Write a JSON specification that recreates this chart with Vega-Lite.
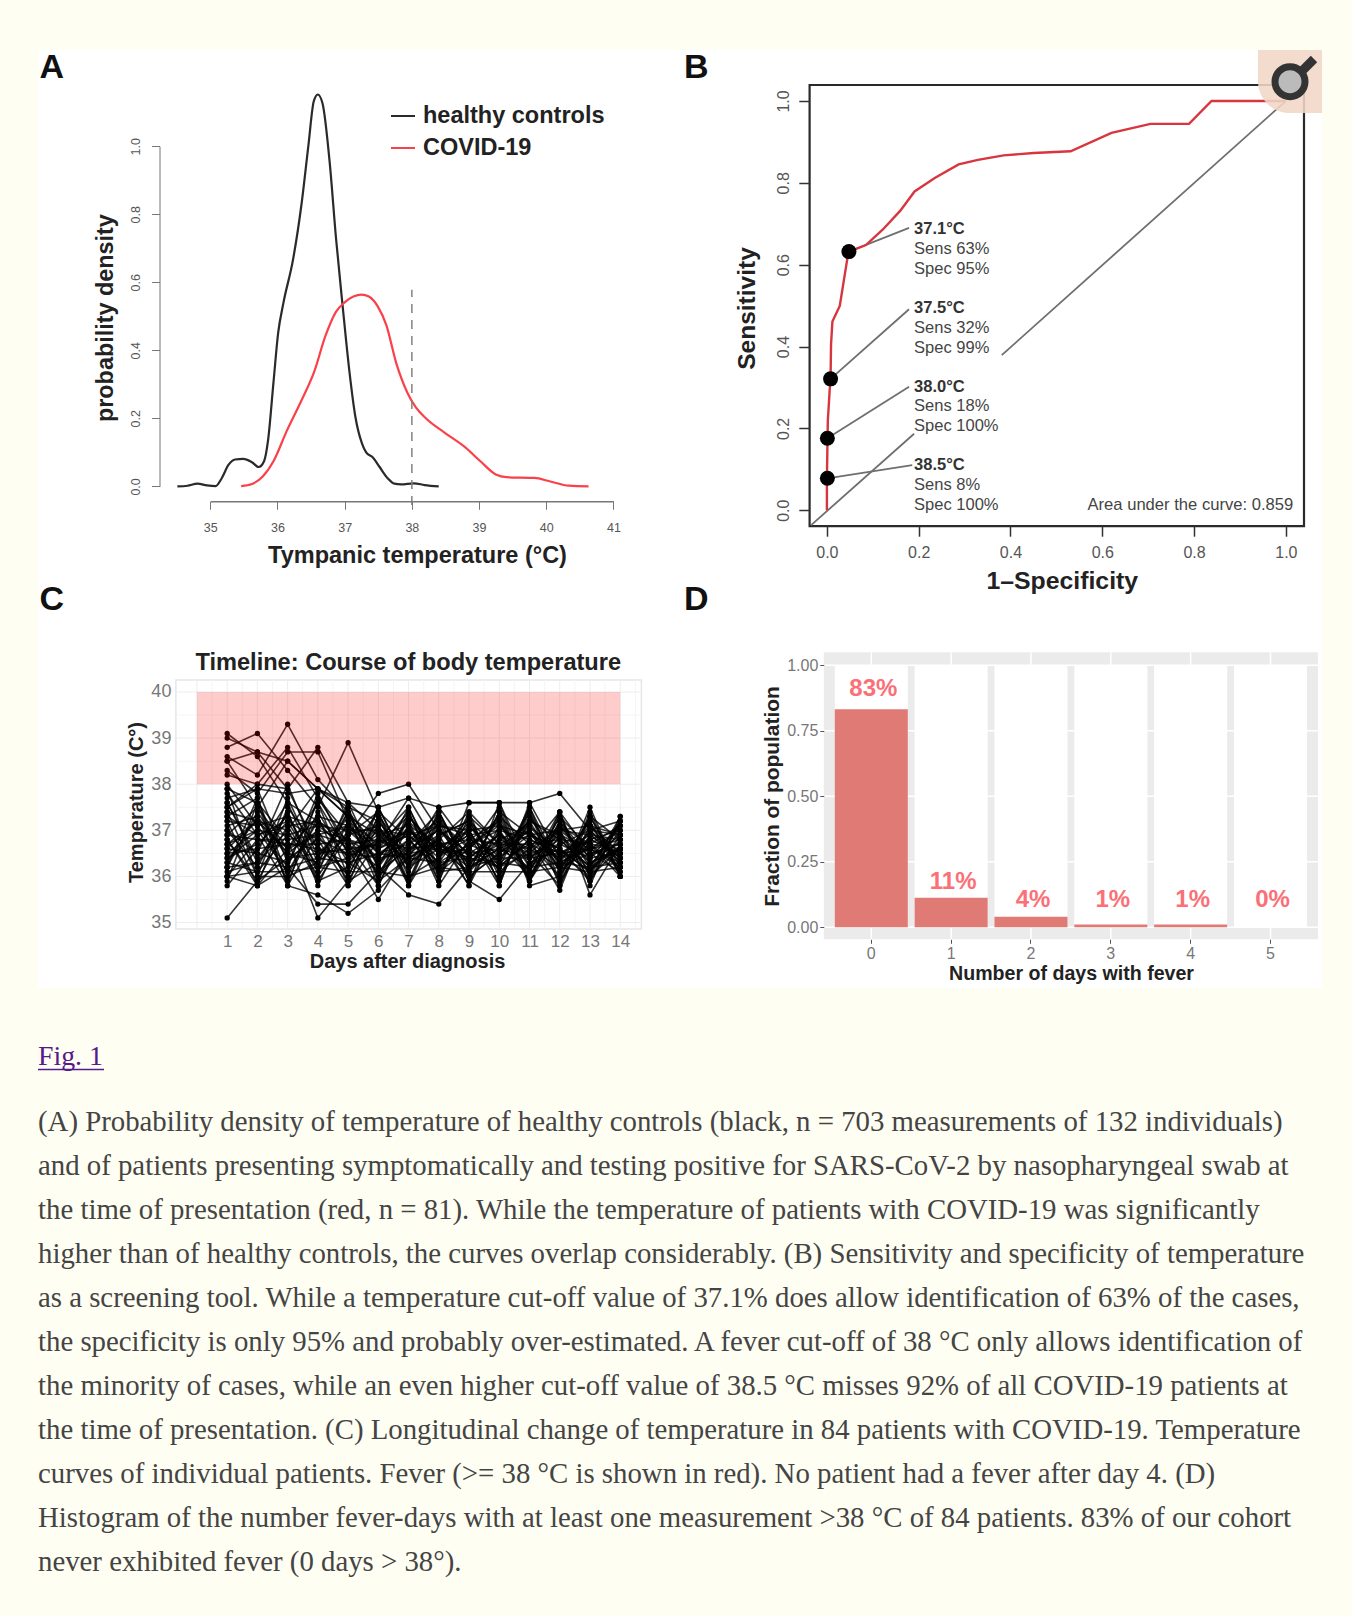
{"$schema":"https://vega.github.io/schema/vega-lite/v6.json","width":1352,"height":1616,"padding":0,"autosize":{"type":"none"},"background":"#fffef2","config":{"font":"Liberation Sans","view":{"stroke":null},"axis":{"grid":false,"labelFont":"Liberation Sans","titleFont":"Liberation Sans","titleBaseline":"middle","labelOverlap":false,"labelFlush":false},"text":{"font":"Liberation Sans"}},
"datasets":{
"density":[{"g":"healthy controls","x":34.51,"y":0},{"g":"healthy controls","x":34.66,"y":0.002},{"g":"healthy controls","x":34.81,"y":0.008},{"g":"healthy controls","x":34.95,"y":0.003},{"g":"healthy controls","x":35.08,"y":0.001},{"g":"healthy controls","x":35.17,"y":0.024},{"g":"healthy controls","x":35.27,"y":0.063},{"g":"healthy controls","x":35.37,"y":0.079},{"g":"healthy controls","x":35.49,"y":0.081},{"g":"healthy controls","x":35.62,"y":0.071},{"g":"healthy controls","x":35.72,"y":0.057},{"g":"healthy controls","x":35.8,"y":0.074},{"g":"healthy controls","x":35.86,"y":0.136},{"g":"healthy controls","x":35.94,"y":0.305},{"g":"healthy controls","x":36.01,"y":0.451},{"g":"healthy controls","x":36.09,"y":0.541},{"g":"healthy controls","x":36.23,"y":0.665},{"g":"healthy controls","x":36.36,"y":0.833},{"g":"healthy controls","x":36.46,"y":1.002},{"g":"healthy controls","x":36.54,"y":1.132},{"g":"healthy controls","x":36.6,"y":1.152},{"g":"healthy controls","x":36.67,"y":1.126},{"g":"healthy controls","x":36.78,"y":0.946},{"g":"healthy controls","x":36.87,"y":0.732},{"g":"healthy controls","x":36.97,"y":0.53},{"g":"healthy controls","x":37.07,"y":0.339},{"g":"healthy controls","x":37.16,"y":0.204},{"g":"healthy controls","x":37.26,"y":0.125},{"g":"healthy controls","x":37.32,"y":0.1},{"g":"healthy controls","x":37.42,"y":0.085},{"g":"healthy controls","x":37.52,"y":0.057},{"g":"healthy controls","x":37.64,"y":0.024},{"g":"healthy controls","x":37.74,"y":0.008},{"g":"healthy controls","x":37.84,"y":0.006},{"g":"healthy controls","x":38.03,"y":0.009},{"g":"healthy controls","x":38.19,"y":0.004},{"g":"healthy controls","x":38.4,"y":0},{"g":"COVID-19","x":35.46,"y":0.001},{"g":"COVID-19","x":35.62,"y":0.007},{"g":"COVID-19","x":35.78,"y":0.029},{"g":"COVID-19","x":35.94,"y":0.074},{"g":"COVID-19","x":36.14,"y":0.164},{"g":"COVID-19","x":36.36,"y":0.254},{"g":"COVID-19","x":36.55,"y":0.339},{"g":"COVID-19","x":36.71,"y":0.44},{"g":"COVID-19","x":36.87,"y":0.513},{"g":"COVID-19","x":37.0,"y":0.541},{"g":"COVID-19","x":37.13,"y":0.558},{"g":"COVID-19","x":37.25,"y":0.564},{"g":"COVID-19","x":37.36,"y":0.558},{"g":"COVID-19","x":37.49,"y":0.53},{"g":"COVID-19","x":37.62,"y":0.474},{"g":"COVID-19","x":37.77,"y":0.361},{"g":"COVID-19","x":37.93,"y":0.277},{"g":"COVID-19","x":38.06,"y":0.232},{"g":"COVID-19","x":38.22,"y":0.198},{"g":"COVID-19","x":38.48,"y":0.159},{"g":"COVID-19","x":38.8,"y":0.114},{"g":"COVID-19","x":39.02,"y":0.074},{"g":"COVID-19","x":39.25,"y":0.035},{"g":"COVID-19","x":39.41,"y":0.027},{"g":"COVID-19","x":39.83,"y":0.025},{"g":"COVID-19","x":40.05,"y":0.015},{"g":"COVID-19","x":40.34,"y":0.002},{"g":"COVID-19","x":40.63,"y":0}],
"temps":[
{"p":1,"d":1,"t":35.1},{"p":1,"d":2,"t":35.9},{"p":1,"d":3,"t":36.4},{"p":1,"d":4,"t":36.8},{"p":1,"d":5,"t":36.5},{"p":1,"d":6,"t":36.9},{"p":1,"d":7,"t":36.3},{"p":1,"d":8,"t":36.7},{"p":1,"d":9,"t":36.2},{"p":1,"d":10,"t":36.6},{"p":1,"d":11,"t":36.9},{"p":1,"d":12,"t":36.4},{"p":1,"d":13,"t":36.8},{"p":1,"d":14,"t":36.5},
{"p":2,"d":1,"t":39.1},{"p":2,"d":2,"t":38.6},{"p":2,"d":3,"t":37.6},{"p":2,"d":4,"t":37.2},{"p":2,"d":5,"t":36.8},{"p":2,"d":6,"t":36.6},{"p":2,"d":7,"t":37.0},{"p":2,"d":8,"t":36.5},{"p":2,"d":9,"t":36.9},{"p":2,"d":10,"t":36.3},{"p":2,"d":11,"t":36.7},{"p":2,"d":12,"t":36.4},{"p":2,"d":13,"t":36.6},{"p":2,"d":14,"t":36.8},
{"p":3,"d":1,"t":39.0},{"p":3,"d":2,"t":38.7},{"p":3,"d":3,"t":38.5},{"p":3,"d":4,"t":37.9},{"p":3,"d":5,"t":37.3},{"p":3,"d":6,"t":36.9},{"p":3,"d":7,"t":37.1},{"p":3,"d":8,"t":36.7},{"p":3,"d":9,"t":36.4},{"p":3,"d":10,"t":36.9},{"p":3,"d":11,"t":36.6},{"p":3,"d":12,"t":37.0},{"p":3,"d":13,"t":36.5},{"p":3,"d":14,"t":36.7},
{"p":4,"d":1,"t":38.8},{"p":4,"d":2,"t":39.1},{"p":4,"d":3,"t":38.3},{"p":4,"d":4,"t":37.5},{"p":4,"d":5,"t":38.9},{"p":4,"d":6,"t":37.4},{"p":4,"d":7,"t":36.8},{"p":4,"d":8,"t":37.2},{"p":4,"d":9,"t":36.6},{"p":4,"d":10,"t":36.2},{"p":4,"d":11,"t":36.8},{"p":4,"d":12,"t":36.5},{"p":4,"d":13,"t":36.9},{"p":4,"d":14,"t":36.4},
{"p":5,"d":1,"t":38.6},{"p":5,"d":2,"t":38.2},{"p":5,"d":3,"t":39.3},{"p":5,"d":4,"t":38.1},{"p":5,"d":5,"t":37.4},{"p":5,"d":6,"t":36.6},{"p":5,"d":7,"t":36.9},{"p":5,"d":8,"t":36.3},{"p":5,"d":9,"t":36.7},{"p":5,"d":10,"t":37.1},{"p":5,"d":11,"t":36.4},{"p":5,"d":12,"t":36.8},{"p":5,"d":13,"t":36.2},{"p":5,"d":14,"t":36.6},
{"p":6,"d":1,"t":38.5},{"p":6,"d":2,"t":38.7},{"p":6,"d":3,"t":37.9},{"p":6,"d":4,"t":38.8},{"p":6,"d":5,"t":37.6},{"p":6,"d":6,"t":37.0},{"p":6,"d":7,"t":36.5},{"p":6,"d":8,"t":36.9},{"p":6,"d":9,"t":37.2},{"p":6,"d":10,"t":36.6},{"p":6,"d":11,"t":36.2},{"p":6,"d":12,"t":36.7},{"p":6,"d":13,"t":37.0},{"p":6,"d":14,"t":36.9},
{"p":7,"d":1,"t":38.3},{"p":7,"d":2,"t":37.8},{"p":7,"d":3,"t":38.7},{"p":7,"d":4,"t":38.7},{"p":7,"d":5,"t":37.2},{"p":7,"d":6,"t":36.7},{"p":7,"d":7,"t":37.3},{"p":7,"d":8,"t":36.6},{"p":7,"d":9,"t":36.1},{"p":7,"d":10,"t":36.8},{"p":7,"d":11,"t":37.1},{"p":7,"d":12,"t":36.3},{"p":7,"d":13,"t":36.6},{"p":7,"d":14,"t":37.0},
{"p":8,"d":1,"t":38.2},{"p":8,"d":2,"t":38.0},{"p":8,"d":3,"t":38.8},{"p":8,"d":4,"t":37.7},{"p":8,"d":5,"t":36.9},{"p":8,"d":6,"t":37.8},{"p":8,"d":7,"t":38.0},{"p":8,"d":8,"t":37.0},{"p":8,"d":9,"t":36.5},{"p":8,"d":10,"t":36.9},{"p":8,"d":11,"t":36.4},{"p":8,"d":12,"t":36.9},{"p":8,"d":13,"t":36.3},{"p":8,"d":14,"t":36.6},
{"p":9,"d":1,"t":38.5},{"p":9,"d":2,"t":37.5},{"p":9,"d":3,"t":38.5},{"p":9,"d":4,"t":37.9},{"p":9,"d":5,"t":37.5},{"p":9,"d":6,"t":37.2},{"p":9,"d":7,"t":36.4},{"p":9,"d":8,"t":36.8},{"p":9,"d":9,"t":37.4},{"p":9,"d":10,"t":36.7},{"p":9,"d":11,"t":37.0},{"p":9,"d":12,"t":36.2},{"p":9,"d":13,"t":36.8},{"p":9,"d":14,"t":36.5},
{"p":10,"d":1,"t":37.9},{"p":10,"d":2,"t":37.6},{"p":10,"d":3,"t":36.8},{"p":10,"d":4,"t":35.1},{"p":10,"d":5,"t":35.9},{"p":10,"d":6,"t":36.3},{"p":10,"d":7,"t":36.8},{"p":10,"d":8,"t":36.2},{"p":10,"d":9,"t":36.7},{"p":10,"d":10,"t":36.4},{"p":10,"d":11,"t":36.9},{"p":10,"d":12,"t":36.6},{"p":10,"d":13,"t":36.1},{"p":10,"d":14,"t":36.8},
{"p":11,"d":1,"t":38.0},{"p":11,"d":2,"t":37.1},{"p":11,"d":3,"t":36.2},{"p":11,"d":4,"t":35.4},{"p":11,"d":5,"t":35.4},{"p":11,"d":6,"t":36.1},{"p":11,"d":7,"t":36.6},{"p":11,"d":8,"t":37.0},{"p":11,"d":9,"t":36.3},{"p":11,"d":10,"t":36.8},{"p":11,"d":11,"t":36.5},{"p":11,"d":12,"t":37.1},{"p":11,"d":13,"t":36.7},{"p":11,"d":14,"t":36.2},
{"p":12,"d":1,"t":37.8},{"p":12,"d":2,"t":36.9},{"p":12,"d":3,"t":35.8},{"p":12,"d":4,"t":35.6},{"p":12,"d":5,"t":35.2},{"p":12,"d":6,"t":35.7},{"p":12,"d":7,"t":36.4},{"p":12,"d":8,"t":36.8},{"p":12,"d":9,"t":36.0},{"p":12,"d":10,"t":36.5},{"p":12,"d":11,"t":37.0},{"p":12,"d":12,"t":36.3},{"p":12,"d":13,"t":36.7},{"p":12,"d":14,"t":37.1},
{"p":13,"d":1,"t":37.7},{"p":13,"d":2,"t":37.9},{"p":13,"d":3,"t":37.8},{"p":13,"d":4,"t":37.9},{"p":13,"d":5,"t":37.6},{"p":13,"d":6,"t":37.5},{"p":13,"d":7,"t":37.7},{"p":13,"d":8,"t":37.5},{"p":13,"d":9,"t":37.6},{"p":13,"d":10,"t":37.6},{"p":13,"d":11,"t":37.6},{"p":13,"d":12,"t":37.8},{"p":13,"d":13,"t":37.0},{"p":13,"d":14,"t":37.2},
{"p":14,"d":1,"t":37.6},{"p":14,"d":2,"t":36.4},{"p":14,"d":3,"t":37.2},{"p":14,"d":4,"t":36.1},{"p":14,"d":5,"t":37.4},{"p":14,"d":6,"t":36.2},{"p":14,"d":7,"t":37.1},{"p":14,"d":8,"t":35.9},{"p":14,"d":9,"t":37.3},{"p":14,"d":10,"t":36.0},{"p":14,"d":11,"t":37.2},{"p":14,"d":12,"t":36.1},{"p":14,"d":13,"t":37.3},{"p":14,"d":14,"t":36.2},
{"p":15,"d":1,"t":37.5},{"p":15,"d":2,"t":37.9},{"p":15,"d":3,"t":36.3},{"p":15,"d":4,"t":37.6},{"p":15,"d":5,"t":36.0},{"p":15,"d":6,"t":37.3},{"p":15,"d":7,"t":35.9},{"p":15,"d":8,"t":37.4},{"p":15,"d":9,"t":36.1},{"p":15,"d":10,"t":37.4},{"p":15,"d":11,"t":35.9},{"p":15,"d":12,"t":37.4},{"p":15,"d":13,"t":35.8},{"p":15,"d":14,"t":37.3},
{"p":16,"d":1,"t":37.4},{"p":16,"d":2,"t":36.0},{"p":16,"d":3,"t":37.7},{"p":16,"d":4,"t":36.3},{"p":16,"d":5,"t":37.5},{"p":16,"d":6,"t":35.9},{"p":16,"d":7,"t":37.4},{"p":16,"d":8,"t":36.0},{"p":16,"d":9,"t":37.4},{"p":16,"d":10,"t":35.8},{"p":16,"d":11,"t":37.5},{"p":16,"d":12,"t":35.9},{"p":16,"d":13,"t":37.5},{"p":16,"d":14,"t":36.0},
{"p":17,"d":1,"t":37.3},{"p":17,"d":2,"t":37.7},{"p":17,"d":3,"t":36.0},{"p":17,"d":4,"t":37.4},{"p":17,"d":5,"t":36.3},{"p":17,"d":6,"t":37.1},{"p":17,"d":7,"t":35.8},{"p":17,"d":8,"t":37.3},{"p":17,"d":9,"t":35.9},{"p":17,"d":10,"t":37.0},{"p":17,"d":11,"t":36.1},{"p":17,"d":12,"t":37.3},{"p":17,"d":13,"t":36.0},{"p":17,"d":14,"t":37.2},
{"p":18,"d":1,"t":37.2},{"p":18,"d":2,"t":35.8},{"p":18,"d":3,"t":37.5},{"p":18,"d":4,"t":36.6},{"p":18,"d":5,"t":36.1},{"p":18,"d":6,"t":37.5},{"p":18,"d":7,"t":36.2},{"p":18,"d":8,"t":36.9},{"p":18,"d":9,"t":35.8},{"p":18,"d":10,"t":37.6},{"p":18,"d":11,"t":35.9},{"p":18,"d":12,"t":37.2},{"p":18,"d":13,"t":36.2},{"p":18,"d":14,"t":37.1},
{"p":19,"d":1,"t":37.1},{"p":19,"d":2,"t":37.3},{"p":19,"d":3,"t":35.9},{"p":19,"d":4,"t":37.3},{"p":19,"d":5,"t":35.8},{"p":19,"d":6,"t":36.8},{"p":19,"d":7,"t":37.5},{"p":19,"d":8,"t":36.1},{"p":19,"d":9,"t":37.1},{"p":19,"d":10,"t":36.3},{"p":19,"d":11,"t":37.4},{"p":19,"d":12,"t":35.8},{"p":19,"d":13,"t":37.1},{"p":19,"d":14,"t":36.3},
{"p":20,"d":1,"t":37.0},{"p":20,"d":2,"t":36.2},{"p":20,"d":3,"t":37.4},{"p":20,"d":4,"t":35.8},{"p":20,"d":5,"t":37.2},{"p":20,"d":6,"t":36.0},{"p":20,"d":7,"t":36.7},{"p":20,"d":8,"t":37.4},{"p":20,"d":9,"t":36.2},{"p":20,"d":10,"t":37.3},{"p":20,"d":11,"t":36.0},{"p":20,"d":12,"t":37.0},{"p":20,"d":13,"t":35.9},{"p":20,"d":14,"t":36.9},
{"p":21,"d":1,"t":36.9},{"p":21,"d":2,"t":37.5},{"p":21,"d":3,"t":36.6},{"p":21,"d":4,"t":37.6},{"p":21,"d":5,"t":36.5},{"p":21,"d":6,"t":37.4},{"p":21,"d":7,"t":36.0},{"p":21,"d":8,"t":36.4},{"p":21,"d":9,"t":37.0},{"p":21,"d":10,"t":35.9},{"p":21,"d":11,"t":37.3},{"p":21,"d":12,"t":36.3},{"p":21,"d":13,"t":37.2},{"p":21,"d":14,"t":36.0},
{"p":22,"d":1,"t":36.8},{"p":22,"d":2,"t":35.9},{"p":22,"d":3,"t":37.1},{"p":22,"d":4,"t":36.0},{"p":22,"d":5,"t":37.0},{"p":22,"d":6,"t":36.4},{"p":22,"d":7,"t":37.2},{"p":22,"d":8,"t":35.8},{"p":22,"d":9,"t":36.8},{"p":22,"d":10,"t":37.2},{"p":22,"d":11,"t":36.2},{"p":22,"d":12,"t":37.1},{"p":22,"d":13,"t":36.4},{"p":22,"d":14,"t":37.1},
{"p":23,"d":1,"t":36.7},{"p":23,"d":2,"t":37.2},{"p":23,"d":3,"t":36.5},{"p":23,"d":4,"t":37.0},{"p":23,"d":5,"t":35.9},{"p":23,"d":6,"t":37.1},{"p":23,"d":7,"t":36.1},{"p":23,"d":8,"t":37.1},{"p":23,"d":9,"t":36.0},{"p":23,"d":10,"t":36.5},{"p":23,"d":11,"t":37.0},{"p":23,"d":12,"t":35.9},{"p":23,"d":13,"t":36.9},{"p":23,"d":14,"t":36.4},
{"p":24,"d":1,"t":36.6},{"p":24,"d":2,"t":36.5},{"p":24,"d":3,"t":38.0},{"p":24,"d":4,"t":36.4},{"p":24,"d":5,"t":37.3},{"p":24,"d":6,"t":36.5},{"p":24,"d":7,"t":36.9},{"p":24,"d":8,"t":36.3},{"p":24,"d":9,"t":37.2},{"p":24,"d":10,"t":36.1},{"p":24,"d":11,"t":36.6},{"p":24,"d":12,"t":37.4},{"p":24,"d":13,"t":35.6},{"p":24,"d":14,"t":36.7},
{"p":25,"d":1,"t":36.5},{"p":25,"d":2,"t":37.0},{"p":25,"d":3,"t":36.1},{"p":25,"d":4,"t":37.2},{"p":25,"d":5,"t":36.7},{"p":25,"d":6,"t":35.8},{"p":25,"d":7,"t":37.3},{"p":25,"d":8,"t":36.5},{"p":25,"d":9,"t":36.6},{"p":25,"d":10,"t":37.5},{"p":25,"d":11,"t":35.8},{"p":25,"d":12,"t":36.0},{"p":25,"d":13,"t":37.0},{"p":25,"d":14,"t":36.3},
{"p":26,"d":1,"t":36.4},{"p":26,"d":2,"t":36.7},{"p":26,"d":3,"t":37.3},{"p":26,"d":4,"t":36.2},{"p":26,"d":5,"t":36.4},{"p":26,"d":6,"t":37.0},{"p":26,"d":7,"t":35.9},{"p":26,"d":8,"t":37.2},{"p":26,"d":9,"t":35.9},{"p":26,"d":10,"t":35.5},{"p":26,"d":11,"t":36.3},{"p":26,"d":12,"t":36.6},{"p":26,"d":13,"t":36.1},{"p":26,"d":14,"t":37.0},
{"p":27,"d":1,"t":36.3},{"p":27,"d":2,"t":36.1},{"p":27,"d":3,"t":36.9},{"p":27,"d":4,"t":37.1},{"p":27,"d":5,"t":36.6},{"p":27,"d":6,"t":35.5},{"p":27,"d":7,"t":36.6},{"p":27,"d":8,"t":37.0},{"p":27,"d":9,"t":36.5},{"p":27,"d":10,"t":36.2},{"p":27,"d":11,"t":36.8},{"p":27,"d":12,"t":35.7},{"p":27,"d":13,"t":37.3},{"p":27,"d":14,"t":36.1},
{"p":28,"d":1,"t":36.2},{"p":28,"d":2,"t":37.4},{"p":28,"d":3,"t":36.4},{"p":28,"d":4,"t":36.5},{"p":28,"d":5,"t":37.1},{"p":28,"d":6,"t":36.3},{"p":28,"d":7,"t":37.0},{"p":28,"d":8,"t":36.4},{"p":28,"d":9,"t":37.3},{"p":28,"d":10,"t":36.7},{"p":28,"d":11,"t":36.0},{"p":28,"d":12,"t":37.2},{"p":28,"d":13,"t":36.4},{"p":28,"d":14,"t":36.9},
{"p":29,"d":1,"t":36.1},{"p":29,"d":2,"t":36.3},{"p":29,"d":3,"t":37.0},{"p":29,"d":4,"t":35.9},{"p":29,"d":5,"t":36.2},{"p":29,"d":6,"t":37.2},{"p":29,"d":7,"t":36.3},{"p":29,"d":8,"t":36.8},{"p":29,"d":9,"t":35.8},{"p":29,"d":10,"t":37.1},{"p":29,"d":11,"t":36.5},{"p":29,"d":12,"t":35.8},{"p":29,"d":13,"t":37.4},{"p":29,"d":14,"t":36.0},
{"p":30,"d":1,"t":36.0},{"p":30,"d":2,"t":36.8},{"p":30,"d":3,"t":36.7},{"p":30,"d":4,"t":36.7},{"p":30,"d":5,"t":36.8},{"p":30,"d":6,"t":36.1},{"p":30,"d":7,"t":36.8},{"p":30,"d":8,"t":36.1},{"p":30,"d":9,"t":36.2},{"p":30,"d":10,"t":36.4},{"p":30,"d":11,"t":37.1},{"p":30,"d":12,"t":36.5},{"p":30,"d":13,"t":36.0},{"p":30,"d":14,"t":36.6},
{"p":31,"d":1,"t":35.9},{"p":31,"d":2,"t":37.6},{"p":31,"d":3,"t":35.8},{"p":31,"d":4,"t":36.9},{"p":31,"d":5,"t":36.0},{"p":31,"d":6,"t":37.3},{"p":31,"d":7,"t":36.5},{"p":31,"d":8,"t":37.3},{"p":31,"d":9,"t":36.4},{"p":31,"d":10,"t":36.9},{"p":31,"d":11,"t":36.1},{"p":31,"d":12,"t":37.3},{"p":31,"d":13,"t":36.6},{"p":31,"d":14,"t":36.2},
{"p":32,"d":1,"t":35.8},{"p":32,"d":2,"t":36.6},{"p":32,"d":3,"t":37.6},{"p":32,"d":4,"t":36.1},{"p":32,"d":5,"t":37.6},{"p":32,"d":6,"t":36.2},{"p":32,"d":7,"t":35.6},{"p":32,"d":8,"t":35.4},{"p":32,"d":9,"t":36.2},{"p":32,"d":10,"t":36.6},{"p":32,"d":11,"t":37.2},{"p":32,"d":12,"t":36.8},{"p":32,"d":13,"t":36.2},{"p":32,"d":14,"t":37.2},
{"p":33,"d":1,"t":36.0},{"p":33,"d":2,"t":35.8},{"p":33,"d":3,"t":36.2},{"p":33,"d":4,"t":37.8},{"p":33,"d":5,"t":36.5},{"p":33,"d":6,"t":36.7},{"p":33,"d":7,"t":37.7},{"p":33,"d":8,"t":36.6},{"p":33,"d":9,"t":37.0},{"p":33,"d":10,"t":35.9},{"p":33,"d":11,"t":37.4},{"p":33,"d":12,"t":36.1},{"p":33,"d":13,"t":36.7},{"p":33,"d":14,"t":36.0},
{"p":34,"d":1,"t":37.5},{"p":34,"d":2,"t":38.0},{"p":34,"d":3,"t":37.9},{"p":34,"d":4,"t":36.6},{"p":34,"d":5,"t":36.3},{"p":34,"d":6,"t":35.9},{"p":34,"d":7,"t":36.4},{"p":34,"d":8,"t":37.5},{"p":34,"d":9,"t":36.6},{"p":34,"d":10,"t":37.3},{"p":34,"d":11,"t":36.7},{"p":34,"d":12,"t":36.0},{"p":34,"d":13,"t":37.3},{"p":34,"d":14,"t":36.8},
{"p":35,"d":1,"t":36.8},{"p":35,"d":2,"t":35.8},{"p":35,"d":3,"t":36.6},{"p":35,"d":4,"t":37.3},{"p":35,"d":5,"t":37.1},{"p":35,"d":6,"t":36.6},{"p":35,"d":7,"t":37.4},{"p":35,"d":8,"t":35.9},{"p":35,"d":9,"t":37.6},{"p":35,"d":10,"t":37.6},{"p":35,"d":11,"t":36.2},{"p":35,"d":12,"t":37.4},{"p":35,"d":13,"t":36.5},{"p":35,"d":14,"t":36.1},
{"p":36,"d":1,"t":37.3},{"p":36,"d":2,"t":36.9},{"p":36,"d":3,"t":37.2},{"p":36,"d":4,"t":36.8},{"p":36,"d":5,"t":35.8},{"p":36,"d":6,"t":37.5},{"p":36,"d":7,"t":36.2},{"p":36,"d":8,"t":37.4},{"p":36,"d":9,"t":36.1},{"p":36,"d":10,"t":37.4},{"p":36,"d":11,"t":36.9},{"p":36,"d":12,"t":36.6},{"p":36,"d":13,"t":35.9},{"p":36,"d":14,"t":37.2},
{"p":37,"d":1,"t":36.2},{"p":37,"d":2,"t":37.7},{"p":37,"d":3,"t":35.8},{"p":37,"d":4,"t":37.7},{"p":37,"d":5,"t":36.7},{"p":37,"d":6,"t":36.2},{"p":37,"d":7,"t":37.5},{"p":37,"d":8,"t":36.2},{"p":37,"d":9,"t":36.7},{"p":37,"d":10,"t":37.0},{"p":37,"d":11,"t":35.9},{"p":37,"d":12,"t":37.1},{"p":37,"d":13,"t":36.3},{"p":37,"d":14,"t":36.6},
{"p":38,"d":1,"t":37.6},{"p":38,"d":2,"t":36.3},{"p":38,"d":3,"t":37.4},{"p":38,"d":4,"t":35.9},{"p":38,"d":5,"t":36.9},{"p":38,"d":6,"t":37.4},{"p":38,"d":7,"t":35.8},{"p":38,"d":8,"t":36.9},{"p":38,"d":9,"t":37.2},{"p":38,"d":10,"t":36.2},{"p":38,"d":11,"t":37.5},{"p":38,"d":12,"t":36.2},{"p":38,"d":13,"t":37.0},{"p":38,"d":14,"t":36.4},
{"p":39,"d":1,"t":36.6},{"p":39,"d":2,"t":37.2},{"p":39,"d":3,"t":37.0},{"p":39,"d":4,"t":37.9},{"p":39,"d":5,"t":37.3},{"p":39,"d":6,"t":35.8},{"p":39,"d":7,"t":37.1},{"p":39,"d":8,"t":36.1},{"p":39,"d":9,"t":36.6},{"p":39,"d":10,"t":37.2},{"p":39,"d":11,"t":35.9},{"p":39,"d":12,"t":36.9},{"p":39,"d":13,"t":36.1},{"p":39,"d":14,"t":37.3},
{"p":40,"d":1,"t":37.9},{"p":40,"d":2,"t":36.0},{"p":40,"d":3,"t":36.0},{"p":40,"d":4,"t":36.3},{"p":40,"d":5,"t":37.4},{"p":40,"d":6,"t":36.0},{"p":40,"d":7,"t":37.3},{"p":40,"d":8,"t":36.5},{"p":40,"d":9,"t":36.9},{"p":40,"d":10,"t":35.8},{"p":40,"d":11,"t":37.6},{"p":40,"d":12,"t":36.4},{"p":40,"d":13,"t":37.1},{"p":40,"d":14,"t":36.5},
{"p":41,"d":1,"t":36.5},{"p":41,"d":2,"t":36.6},{"p":41,"d":3,"t":36.7},{"p":41,"d":4,"t":36.6},{"p":41,"d":5,"t":36.5},{"p":41,"d":6,"t":36.4},{"p":41,"d":7,"t":36.5},{"p":41,"d":8,"t":36.6},{"p":41,"d":9,"t":36.5},{"p":41,"d":10,"t":36.6},{"p":41,"d":11,"t":36.4},{"p":41,"d":12,"t":36.5},{"p":41,"d":13,"t":36.6},{"p":41,"d":14,"t":36.7},
{"p":42,"d":1,"t":36.9},{"p":42,"d":2,"t":36.8},{"p":42,"d":3,"t":36.8},{"p":42,"d":4,"t":36.9},{"p":42,"d":5,"t":36.7},{"p":42,"d":6,"t":36.8},{"p":42,"d":7,"t":36.6},{"p":42,"d":8,"t":36.7},{"p":42,"d":9,"t":36.8},{"p":42,"d":10,"t":36.7},{"p":42,"d":11,"t":36.7},{"p":42,"d":12,"t":36.8},{"p":42,"d":13,"t":36.7},{"p":42,"d":14,"t":36.6},
{"p":43,"d":1,"t":36.2},{"p":43,"d":2,"t":36.3},{"p":43,"d":3,"t":36.2},{"p":43,"d":4,"t":36.4},{"p":43,"d":5,"t":36.3},{"p":43,"d":6,"t":36.5},{"p":43,"d":7,"t":36.4},{"p":43,"d":8,"t":36.3},{"p":43,"d":9,"t":36.4},{"p":43,"d":10,"t":36.3},{"p":43,"d":11,"t":36.2},{"p":43,"d":12,"t":36.3},{"p":43,"d":13,"t":36.2},{"p":43,"d":14,"t":36.3},
{"p":44,"d":1,"t":37.2},{"p":44,"d":2,"t":37.1},{"p":44,"d":3,"t":37.3},{"p":44,"d":4,"t":37.1},{"p":44,"d":5,"t":37.0},{"p":44,"d":6,"t":37.0},{"p":44,"d":7,"t":36.9},{"p":44,"d":8,"t":37.1},{"p":44,"d":9,"t":37.0},{"p":44,"d":10,"t":37.1},{"p":44,"d":11,"t":36.9},{"p":44,"d":12,"t":37.0},{"p":44,"d":13,"t":37.1},{"p":44,"d":14,"t":36.9},
{"p":45,"d":1,"t":36.0},{"p":45,"d":2,"t":36.1},{"p":45,"d":3,"t":36.1},{"p":45,"d":4,"t":36.2},{"p":45,"d":5,"t":36.1},{"p":45,"d":6,"t":36.1},{"p":45,"d":7,"t":36.0},{"p":45,"d":8,"t":36.2},{"p":45,"d":9,"t":36.1},{"p":45,"d":10,"t":36.1},{"p":45,"d":11,"t":36.1},{"p":45,"d":12,"t":36.2},{"p":45,"d":13,"t":36.1},{"p":45,"d":14,"t":36.2},
{"p":46,"d":1,"t":36.7},{"p":46,"d":2,"t":37.0},{"p":46,"d":3,"t":36.9},{"p":46,"d":4,"t":36.5},{"p":46,"d":5,"t":36.6},{"p":46,"d":6,"t":36.7},{"p":46,"d":7,"t":37.0},{"p":46,"d":8,"t":36.6},{"p":46,"d":9,"t":36.4},{"p":46,"d":10,"t":36.2},{"p":46,"d":11,"t":36.5},{"p":46,"d":12,"t":36.7},{"p":46,"d":13,"t":36.4},{"p":46,"d":14,"t":36.5},
{"p":47,"d":1,"t":37.4},{"p":47,"d":2,"t":37.2},{"p":47,"d":3,"t":36.6},{"p":47,"d":4,"t":36.9},{"p":47,"d":5,"t":37.1},{"p":47,"d":6,"t":36.5},{"p":47,"d":7,"t":36.7},{"p":47,"d":8,"t":37.1},{"p":47,"d":9,"t":36.9},{"p":47,"d":10,"t":37.0},{"p":47,"d":11,"t":36.8},{"p":47,"d":12,"t":36.5},{"p":47,"d":13,"t":36.8},{"p":47,"d":14,"t":37.0},
{"p":48,"d":1,"t":36.4},{"p":48,"d":2,"t":36.9},{"p":48,"d":3,"t":37.1},{"p":48,"d":4,"t":37.2},{"p":48,"d":5,"t":36.4},{"p":48,"d":6,"t":36.8},{"p":48,"d":7,"t":36.4},{"p":48,"d":8,"t":36.7},{"p":48,"d":9,"t":36.3},{"p":48,"d":10,"t":36.7},{"p":48,"d":11,"t":36.6},{"p":48,"d":12,"t":36.2},{"p":48,"d":13,"t":36.5},{"p":48,"d":14,"t":36.6},
{"p":49,"d":1,"t":37.0},{"p":49,"d":2,"t":36.5},{"p":49,"d":3,"t":36.3},{"p":49,"d":4,"t":37.0},{"p":49,"d":5,"t":36.8},{"p":49,"d":6,"t":36.4},{"p":49,"d":7,"t":37.2},{"p":49,"d":8,"t":36.5},{"p":49,"d":9,"t":36.8},{"p":49,"d":10,"t":36.5},{"p":49,"d":11,"t":37.2},{"p":49,"d":12,"t":36.9},{"p":49,"d":13,"t":36.6},{"p":49,"d":14,"t":36.3},
{"p":50,"d":1,"t":36.3},{"p":50,"d":2,"t":37.3},{"p":50,"d":3,"t":36.5},{"p":50,"d":4,"t":36.3},{"p":50,"d":5,"t":36.9},{"p":50,"d":6,"t":37.1},{"p":50,"d":7,"t":36.2},{"p":50,"d":8,"t":36.6},{"p":50,"d":9,"t":37.1},{"p":50,"d":10,"t":36.4},{"p":50,"d":11,"t":36.4},{"p":50,"d":12,"t":37.0},{"p":50,"d":13,"t":36.9},{"p":50,"d":14,"t":36.8}
]
},
"layer":[
{"data":{"values":[{"a":0,"b":1}]},"mark":{"type":"rect","fill":"#ffffff"},"encoding":{"x":{"field":"a","type":"quantitative","scale":{"domain":[0,1],"range":[38,1322]},"axis":null},"x2":{"field":"b"},"y":{"field":"a","type":"quantitative","scale":{"domain":[0,1],"range":[988,50]},"axis":null},"y2":{"field":"b"}}},
{"data":{"values":[{"l":"A","col":0,"row":0},{"l":"B","col":1,"row":0},{"l":"C","col":0,"row":1},{"l":"D","col":1,"row":1}]},"mark":{"type":"text","fontSize":34,"fontWeight":"bold","align":"left","baseline":"alphabetic","color":"#111"},"encoding":{"x":{"field":"col","type":"quantitative","scale":{"domain":[0,1],"range":[39.5,684]},"axis":null},"y":{"field":"row","type":"quantitative","scale":{"domain":[0,1],"range":[78,610]},"axis":null},"text":{"field":"l"}}},
{"resolve":{"axis":{"x":"independent","y":"independent"}},"layer":[
{"data":{"name":"density"},"mark":{"type":"line","interpolate":"monotone","strokeWidth":2.2},"encoding":{"x":{"field":"x","type":"quantitative","scale":{"domain":[35,41],"range":[210.3,613.4],"nice":false,"zero":false},"axis":{"zindex":1,"orient":"bottom","offset":-1114.7,"values":[35,36,37,38,39,40,41],"title":"Tympanic temperature (°C)","titleX":417,"titleY":54,"titleFontSize":23.5,"titleFontWeight":"bold","titleColor":"#222","labelFontSize":12.5,"labelColor":"#555","labelPadding":18,"labelBaseline":"middle","tickSize":8,"tickColor":"#777","domainColor":"#777","domainWidth":1.5}},"y":{"field":"y","type":"quantitative","scale":{"domain":[0,1],"range":[486.4,146.2],"nice":false,"zero":false},"axis":{"zindex":1,"orient":"left","offset":-159.5,"values":[0,0.2,0.4,0.6,0.8,1],"format":".1f","labelAngle":-90,"labelAlign":"center","labelBaseline":"middle","labelPadding":15.7,"labelFontSize":12.5,"labelColor":"#555","tickSize":8,"tickColor":"#777","domainColor":"#777","title":"probability density","titleX":-53.7,"titleY":317.6,"titleFontSize":23.4,"titleFontWeight":"bold","titleColor":"#222"}},"color":{"field":"g","type":"nominal","scale":{"domain":["healthy controls","COVID-19"],"range":["#2a2a2a","#fa4048"]},"legend":{"orient":"none","legendX":390,"legendY":103,"title":null,"symbolType":"stroke","symbolSize":576,"symbolStrokeWidth":2,"labelFont":"Liberation Sans","labelFontSize":23.5,"labelFontWeight":"bold","labelColor":"#222","labelOffset":7,"labelLimit":400,"rowPadding":7}}}},
{"data":{"values":[{"v":38,"a":-0.055,"b":0.578}]},"mark":{"type":"rule","color":"#8a8078","strokeDash":[9,7],"strokeWidth":1.5},"encoding":{"x":{"field":"v","type":"quantitative","scale":{"domain":[35,41],"range":[210.3,613.4],"nice":false,"zero":false},"axis":null},"y":{"field":"a","type":"quantitative","scale":{"domain":[0,1],"range":[486.4,146.2],"nice":false,"zero":false},"axis":null},"y2":{"field":"b"}}}
]},
{"resolve":{"axis":{"x":"independent","y":"independent"}},"layer":[
{"data":{"values":[{"a":-0.0377,"a2":1.0395,"b":-0.039,"b2":1.039}]},"mark":{"type":"rect","fillOpacity":0,"fill":"#fff","stroke":"#2a2a2a","strokeWidth":2.2},"encoding":{"x":{"field":"a","type":"quantitative","scale":{"domain":[-0.0377,1.0395],"range":[809.6,1304],"nice":false,"zero":false},"axis":{"zindex":1,"orient":"bottom","offset":-1089.8,"values":[0,0.2,0.4,0.6,0.8,1],"format":".1f","labelFontSize":16,"labelColor":"#555","labelBaseline":"middle","labelPadding":15.8,"tickSize":10,"tickColor":"#333","tickWidth":1.5,"domain":false,"title":"1–Specificity","titleX":1061.8,"titleY":55.5,"titleFontSize":24.8,"titleFontWeight":"bold","titleColor":"#222"}},"x2":{"field":"a2"},"y":{"field":"b","type":"quantitative","scale":{"domain":[-0.039,1.039],"range":[526.2,85],"nice":false,"zero":false},"axis":{"zindex":1,"orient":"left","offset":-809.6,"values":[0,0.2,0.4,0.6,0.8,1],"format":".1f","labelAngle":-90,"labelAlign":"center","labelBaseline":"middle","labelFontSize":16,"labelColor":"#555","labelPadding":15.8,"tickSize":10.8,"tickColor":"#333","tickWidth":1.5,"domain":false,"title":"Sensitivity","titleX":-62.6,"titleY":308,"titleFontSize":24.5,"titleFontWeight":"bold","titleColor":"#222"}},"y2":{"field":"b2"}}},
{"data":{"values":[{"s":"dl","x":-0.035,"y":-0.037},{"s":"dl","x":0.19,"y":0.187},{"s":"du","x":0.381,"y":0.379},{"s":"du","x":1,"y":1},{"s":"37.1","x":0.048,"y":0.632},{"s":"37.1","x":0.179,"y":0.69},{"s":"37.5","x":0.008,"y":0.321},{"s":"37.5","x":0.179,"y":0.491},{"s":"38.0","x":0.001,"y":0.176},{"s":"38.0","x":0.179,"y":0.302},{"s":"38.5","x":0.001,"y":0.078},{"s":"38.5","x":0.186,"y":0.11}]},"mark":{"type":"line","color":"#6f6f6f","strokeWidth":1.8},"encoding":{"x":{"field":"x","type":"quantitative","scale":{"domain":[-0.0377,1.0395],"range":[809.6,1304],"nice":false,"zero":false},"axis":null},"y":{"field":"y","type":"quantitative","scale":{"domain":[-0.039,1.039],"range":[526.2,85],"nice":false,"zero":false},"axis":null},"detail":{"field":"s"}}},
{"data":{"values":[{"x":0,"y":0},{"x":0,"y":0.078},{"x":0.002,"y":0.218},{"x":0.006,"y":0.293},{"x":0.008,"y":0.321},{"x":0.009,"y":0.405},{"x":0.012,"y":0.461},{"x":0.028,"y":0.499},{"x":0.044,"y":0.611},{"x":0.048,"y":0.632},{"x":0.085,"y":0.648},{"x":0.122,"y":0.686},{"x":0.16,"y":0.732},{"x":0.191,"y":0.779},{"x":0.235,"y":0.812},{"x":0.287,"y":0.845},{"x":0.329,"y":0.856},{"x":0.385,"y":0.867},{"x":0.451,"y":0.873},{"x":0.531,"y":0.877},{"x":0.62,"y":0.922},{"x":0.705,"y":0.944},{"x":0.789,"y":0.944},{"x":0.838,"y":1},{"x":1,"y":1}]},"mark":{"type":"line","color":"#d8363f","strokeWidth":2.4},"encoding":{"x":{"field":"x","type":"quantitative","scale":{"domain":[-0.0377,1.0395],"range":[809.6,1304],"nice":false,"zero":false},"axis":null},"y":{"field":"y","type":"quantitative","scale":{"domain":[-0.039,1.039],"range":[526.2,85],"nice":false,"zero":false},"axis":null}}},
{"data":{"values":[{"x":0.048,"y":0.632},{"x":0.008,"y":0.321},{"x":0.001,"y":0.176},{"x":0.001,"y":0.078}]},"mark":{"type":"point","filled":true,"color":"#000","opacity":1,"size":225},"encoding":{"x":{"field":"x","type":"quantitative","scale":{"domain":[-0.0377,1.0395],"range":[809.6,1304],"nice":false,"zero":false},"axis":null},"y":{"field":"y","type":"quantitative","scale":{"domain":[-0.039,1.039],"range":[526.2,85],"nice":false,"zero":false},"axis":null}}},
{"data":{"values":[{"x":0.19,"y":0.688,"t":"37.1°C"},{"x":0.19,"y":0.495,"t":"37.5°C"},{"x":0.19,"y":0.302,"t":"38.0°C"},{"x":0.19,"y":0.11,"t":"38.5°C"}]},"mark":{"type":"text","align":"left","baseline":"middle","fontSize":16.5,"fontWeight":"bold","color":"#333"},"encoding":{"x":{"field":"x","type":"quantitative","scale":{"domain":[-0.0377,1.0395],"range":[809.6,1304],"nice":false,"zero":false},"axis":null},"y":{"field":"y","type":"quantitative","scale":{"domain":[-0.039,1.039],"range":[526.2,85],"nice":false,"zero":false},"axis":null},"text":{"field":"t"}}},
{"data":{"values":[{"x":0.19,"y":0.639,"t":"Sens 63%"},{"x":0.19,"y":0.59,"t":"Spec 95%"},{"x":0.19,"y":0.446,"t":"Sens 32%"},{"x":0.19,"y":0.397,"t":"Spec 99%"},{"x":0.19,"y":0.254,"t":"Sens 18%"},{"x":0.19,"y":0.206,"t":"Spec 100%"},{"x":0.19,"y":0.062,"t":"Sens 8%"},{"x":0.19,"y":0.013,"t":"Spec 100%"}]},"mark":{"type":"text","align":"left","baseline":"middle","fontSize":16.5,"color":"#444"},"encoding":{"x":{"field":"x","type":"quantitative","scale":{"domain":[-0.0377,1.0395],"range":[809.6,1304],"nice":false,"zero":false},"axis":null},"y":{"field":"y","type":"quantitative","scale":{"domain":[-0.039,1.039],"range":[526.2,85],"nice":false,"zero":false},"axis":null},"text":{"field":"t"}}},
{"data":{"values":[{"x":1.016,"y":0.013,"t":"Area under the curve: 0.859"}]},"mark":{"type":"text","align":"right","baseline":"middle","fontSize":16.6,"color":"#444"},"encoding":{"x":{"field":"x","type":"quantitative","scale":{"domain":[-0.0377,1.0395],"range":[809.6,1304],"nice":false,"zero":false},"axis":null},"y":{"field":"y","type":"quantitative","scale":{"domain":[-0.039,1.039],"range":[526.2,85],"nice":false,"zero":false},"axis":null},"text":{"field":"t"}}}
]},
{"resolve":{"axis":{"x":"independent","y":"independent"}},"layer":[
{"data":{"values":[{"a":-0.695,"a2":14.7,"b":34.86,"b2":40.26}]},"mark":{"type":"rect","fill":"#fff","stroke":"#e6e6e6","strokeWidth":1.5},"encoding":{"x":{"field":"a","type":"quantitative","scale":{"domain":[-0.695,14.7],"range":[175.9,641.4],"nice":false,"zero":false},"axis":{"zindex":1,"orient":"bottom","offset":-687,"values":[1,2,3,4,5,6,7,8,9,10,11,12,13,14],"labelFontSize":17,"labelColor":"#777","labelBaseline":"middle","labelPadding":12.7,"ticks":false,"domain":false,"title":"Days after diagnosis","titleX":407,"titleY":32,"titleFontSize":20,"titleFontWeight":"bold","titleColor":"#222"}},"x2":{"field":"a2"},"y":{"field":"b","type":"quantitative","scale":{"domain":[34.86,40.26],"range":[929,680],"nice":false,"zero":false},"axis":{"zindex":1,"orient":"left","offset":-175.9,"values":[35,36,37,38,39,40],"labelFontSize":18,"labelColor":"#777","labelPadding":5,"ticks":false,"domain":false,"title":"Temperature (C°)","titleX":-39,"titleY":802,"titleFontSize":20,"titleFontWeight":"bold","titleColor":"#222"}},"y2":{"field":"b2"}}},
{"data":{"values":[{"v":0.5},{"v":1.5},{"v":2.5},{"v":3.5},{"v":4.5},{"v":5.5},{"v":6.5},{"v":7.5},{"v":8.5},{"v":9.5},{"v":10.5},{"v":11.5},{"v":12.5},{"v":13.5},{"v":14.5}]},"mark":{"type":"rule","color":"#f5f5f5","strokeWidth":1},"encoding":{"x":{"field":"v","type":"quantitative","scale":{"domain":[-0.695,14.7],"range":[175.9,641.4],"nice":false,"zero":false},"axis":null},"y":{"datum":34.86,"scale":{"domain":[34.86,40.26],"range":[929,680],"nice":false,"zero":false},"axis":null},"y2":{"datum":40.26}}},
{"data":{"values":[{"v":35.5},{"v":36.5},{"v":37.5},{"v":38.5},{"v":39.5}]},"mark":{"type":"rule","color":"#f5f5f5","strokeWidth":1},"encoding":{"y":{"field":"v","type":"quantitative","scale":{"domain":[34.86,40.26],"range":[929,680],"nice":false,"zero":false},"axis":null},"x":{"datum":-0.695,"scale":{"domain":[-0.695,14.7],"range":[175.9,641.4],"nice":false,"zero":false},"axis":null},"x2":{"datum":14.7}}},
{"data":{"values":[{"v":0},{"v":1},{"v":2},{"v":3},{"v":4},{"v":5},{"v":6},{"v":7},{"v":8},{"v":9},{"v":10},{"v":11},{"v":12},{"v":13},{"v":14}]},"mark":{"type":"rule","color":"#ededed","strokeWidth":1},"encoding":{"x":{"field":"v","type":"quantitative","scale":{"domain":[-0.695,14.7],"range":[175.9,641.4],"nice":false,"zero":false},"axis":null},"y":{"datum":34.86,"scale":{"domain":[34.86,40.26],"range":[929,680],"nice":false,"zero":false},"axis":null},"y2":{"datum":40.26}}},
{"data":{"values":[{"v":35},{"v":36},{"v":37},{"v":38},{"v":39},{"v":40}]},"mark":{"type":"rule","color":"#ededed","strokeWidth":1},"encoding":{"y":{"field":"v","type":"quantitative","scale":{"domain":[34.86,40.26],"range":[929,680],"nice":false,"zero":false},"axis":null},"x":{"datum":-0.695,"scale":{"domain":[-0.695,14.7],"range":[175.9,641.4],"nice":false,"zero":false},"axis":null},"x2":{"datum":14.7}}},
{"data":{"name":"temps"},"mark":{"type":"line","color":"#000","strokeWidth":1.6,"opacity":0.8},"encoding":{"x":{"field":"d","type":"quantitative","scale":{"domain":[-0.695,14.7],"range":[175.9,641.4],"nice":false,"zero":false},"axis":null},"y":{"field":"t","type":"quantitative","scale":{"domain":[34.86,40.26],"range":[929,680],"nice":false,"zero":false},"axis":null},"detail":{"field":"p"}}},
{"data":{"name":"temps"},"mark":{"type":"point","filled":true,"color":"#000","opacity":1,"size":28},"encoding":{"x":{"field":"d","type":"quantitative","scale":{"domain":[-0.695,14.7],"range":[175.9,641.4],"nice":false,"zero":false},"axis":null},"y":{"field":"t","type":"quantitative","scale":{"domain":[34.86,40.26],"range":[929,680],"nice":false,"zero":false},"axis":null}}},
{"data":{"values":[{"a":0,"a2":14,"b":38,"b2":40}]},"mark":{"type":"rect","fill":"#ff0000","opacity":0.2},"encoding":{"x":{"field":"a","type":"quantitative","scale":{"domain":[-0.695,14.7],"range":[175.9,641.4],"nice":false,"zero":false},"axis":null},"x2":{"field":"a2"},"y":{"field":"b","type":"quantitative","scale":{"domain":[34.86,40.26],"range":[929,680],"nice":false,"zero":false},"axis":null},"y2":{"field":"b2"}}},
{"data":{"values":[{"t":"Timeline: Course of body temperature"}]},"mark":{"type":"text","fontSize":23.6,"fontWeight":"bold","color":"#222","baseline":"middle"},"encoding":{"x":{"datum":6.99,"scale":{"domain":[-0.695,14.7],"range":[175.9,641.4],"nice":false,"zero":false},"axis":null},"y":{"datum":40.62,"scale":{"domain":[34.86,40.26],"range":[929,680],"nice":false,"zero":false},"axis":null},"text":{"field":"t"}}}
]},
{"layer":[
{"data":{"values":[{"a":0,"a2":1,"b":-0.0458,"b2":1.0496}]},"mark":{"type":"rect","fill":"#ebebeb"},"encoding":{"x":{"field":"a","type":"quantitative","scale":{"domain":[0,1],"range":[823.8,1318],"nice":false,"zero":false},"axis":null},"x2":{"field":"a2"},"y":{"field":"b","type":"quantitative","scale":{"domain":[-0.0458,1.0496],"range":[939.3,652.3],"nice":false,"zero":false},"axis":null},"y2":{"field":"b2"}}},
{"data":{"values":[{"v":0},{"v":0.25},{"v":0.5},{"v":0.75},{"v":1}]},"mark":{"type":"rule","color":"#fff","strokeWidth":1.5},"encoding":{"y":{"field":"v","type":"quantitative","scale":{"domain":[-0.0458,1.0496],"range":[939.3,652.3],"nice":false,"zero":false},"axis":null},"x":{"datum":0,"scale":{"domain":[0,1],"range":[823.8,1318],"nice":false,"zero":false},"axis":null},"x2":{"datum":1}}}
]},
{"resolve":{"axis":{"x":"independent","y":"independent"}},"layer":[
{"data":{"values":[{"d":"0"},{"d":"1"},{"d":"2"},{"d":"3"},{"d":"4"},{"d":"5"}]},"mark":{"type":"rule","color":"#fff","strokeWidth":1.5},"encoding":{"x":{"field":"d","type":"ordinal","scale":{"type":"band","domain":["0","1","2","3","4","5"],"range":[823.8,1318],"paddingInner":0.085,"paddingOuter":0.1375},"axis":{"zindex":1,"orient":"bottom","offset":-676.7,"labelAngle":0,"labelFontSize":16,"labelColor":"#777","labelBaseline":"middle","labelPadding":10.4,"tickSize":4,"tickColor":"#555","domain":false,"title":"Number of days with fever","titleX":1071,"titleY":34,"titleFontSize":19.6,"titleFontWeight":"bold","titleColor":"#222"}},"y":{"datum":-0.0458,"scale":{"domain":[-0.0458,1.0496],"range":[939.3,652.3],"nice":false,"zero":false},"axis":{"zindex":1,"orient":"left","offset":-823.8,"values":[0,0.25,0.5,0.75,1],"format":".2f","labelFontSize":16,"labelColor":"#777","labelPadding":2,"tickSize":4,"tickColor":"#555","domain":false,"title":"Fraction of population","titleX":-51,"titleY":796,"titleFontSize":20.9,"titleFontWeight":"bold","titleColor":"#222"}},"y2":{"datum":1.0496}}},
{"data":{"values":[{"d":"0","a":0,"b":1},{"d":"1","a":0,"b":1},{"d":"2","a":0,"b":1},{"d":"3","a":0,"b":1},{"d":"4","a":0,"b":1},{"d":"5","a":0,"b":1}]},"mark":{"type":"bar","color":"#fff"},"encoding":{"x":{"field":"d","type":"ordinal","scale":{"type":"band","domain":["0","1","2","3","4","5"],"range":[823.8,1318],"paddingInner":0.085,"paddingOuter":0.1375},"axis":null},"y":{"field":"a","type":"quantitative","scale":{"domain":[-0.0458,1.0496],"range":[939.3,652.3],"nice":false,"zero":false},"axis":null},"y2":{"field":"b"}}},
{"data":{"values":[{"d":"0","a":0,"f":0.832},{"d":"1","a":0,"f":0.113},{"d":"2","a":0,"f":0.04},{"d":"3","a":0,"f":0.011},{"d":"4","a":0,"f":0.011}]},"mark":{"type":"bar","color":"#e07a74"},"encoding":{"x":{"field":"d","type":"ordinal","scale":{"type":"band","domain":["0","1","2","3","4","5"],"range":[823.8,1318],"paddingInner":0.085,"paddingOuter":0.1375},"axis":null},"y":{"field":"f","type":"quantitative","scale":{"domain":[-0.0458,1.0496],"range":[939.3,652.3],"nice":false,"zero":false},"axis":null},"y2":{"field":"a"}}},
{"data":{"values":[{"d":"0","v":0.91,"t":"83%"},{"d":"1","v":0.174,"t":"11%"},{"d":"2","v":0.104,"t":"4%"},{"d":"3","v":0.104,"t":"1%"},{"d":"4","v":0.104,"t":"1%"},{"d":"5","v":0.104,"t":"0%"}]},"mark":{"type":"text","fontSize":24,"fontWeight":"bold","color":"#fb7077","baseline":"middle","dx":2},"encoding":{"x":{"field":"d","type":"ordinal","scale":{"type":"band","domain":["0","1","2","3","4","5"],"range":[823.8,1318],"paddingInner":0.085,"paddingOuter":0.1375},"axis":null},"y":{"field":"v","type":"quantitative","scale":{"domain":[-0.0458,1.0496],"range":[939.3,652.3],"nice":false,"zero":false},"axis":null},"text":{"field":"t"}}}
]},
{"layer":[
{"data":{"values":[{"a":0,"b":1}]},"mark":{"type":"rect","fill":"#f1d6c6","opacity":0.88,"cornerRadiusBottomLeft":32},"encoding":{"x":{"field":"a","type":"quantitative","scale":{"domain":[0,1],"range":[1258,1322]},"axis":null},"x2":{"field":"b"},"y":{"field":"a","type":"quantitative","scale":{"domain":[0,1],"range":[113,50]},"axis":null},"y2":{"field":"b"}}},
{"data":{"values":[{"x":0.703,"y":0.683},{"x":0.875,"y":0.857}]},"mark":{"type":"line","color":"#333","strokeWidth":9},"encoding":{"x":{"field":"x","type":"quantitative","scale":{"domain":[0,1],"range":[1258,1322]},"axis":null},"y":{"field":"y","type":"quantitative","scale":{"domain":[0,1],"range":[113,50]},"axis":null}}},
{"data":{"values":[{"x":0.5,"y":0.497}]},"mark":{"type":"point","filled":false,"fill":"#bbb","fillOpacity":1,"stroke":"#333","strokeWidth":7,"opacity":1,"size":900},"encoding":{"x":{"field":"x","type":"quantitative","scale":{"domain":[0,1],"range":[1258,1322]},"axis":null},"y":{"field":"y","type":"quantitative","scale":{"domain":[0,1],"range":[113,50]},"axis":null}}}
]},
{"layer":[
{"data":{"values":[{"t":"Fig. 1","a":0,"b":0}]},"mark":{"type":"text","font":"Liberation Serif","fontSize":27.8,"color":"#551a8b","align":"left","baseline":"middle"},"encoding":{"x":{"field":"a","type":"quantitative","scale":{"domain":[0,1],"range":[38,1322]},"axis":null},"y":{"field":"b","type":"quantitative","scale":{"domain":[0,1],"range":[1057,1157]},"axis":null},"text":{"field":"t"}}},
{"data":{"values":[{"a":0,"a2":0.0514,"b":0.125}]},"mark":{"type":"rule","color":"#551a8b","strokeWidth":1.5},"encoding":{"x":{"field":"a","type":"quantitative","scale":{"domain":[0,1],"range":[38,1322]},"axis":null},"x2":{"field":"a2"},"y":{"field":"b","type":"quantitative","scale":{"domain":[0,1],"range":[1057,1157]},"axis":null}}}
]},
{"data":{"values":[{"line":1,"t":"(A) Probability density of temperature of healthy controls (black, n = 703 measurements of 132 individuals)"},{"line":2,"t":"and of patients presenting symptomatically and testing positive for SARS-CoV-2 by nasopharyngeal swab at"},{"line":3,"t":"the time of presentation (red, n = 81). While the temperature of patients with COVID-19 was significantly"},{"line":4,"t":"higher than of healthy controls, the curves overlap considerably. (B) Sensitivity and specificity of temperature"},{"line":5,"t":"as a screening tool. While a temperature cut-off value of 37.1% does allow identification of 63% of the cases,"},{"line":6,"t":"the specificity is only 95% and probably over-estimated. A fever cut-off of 38 °C only allows identification of"},{"line":7,"t":"the minority of cases, while an even higher cut-off value of 38.5 °C misses 92% of all COVID-19 patients at"},{"line":8,"t":"the time of presentation. (C) Longitudinal change of temperature in 84 patients with COVID-19. Temperature"},{"line":9,"t":"curves of individual patients. Fever (>= 38 °C is shown in red). No patient had a fever after day 4. (D)"},{"line":10,"t":"Histogram of the number fever-days with at least one measurement >38 °C of 84 patients. 83% of our cohort"},{"line":11,"t":"never exhibited fever (0 days > 38°)."}]},"mark":{"type":"text","font":"Liberation Serif","fontSize":28.8,"color":"#444","align":"left","baseline":"middle"},"encoding":{"x":{"datum":0,"scale":{"domain":[0,1],"range":[38,1322]},"axis":null},"y":{"field":"line","type":"quantitative","scale":{"domain":[1,11],"range":[1122,1562],"nice":false,"zero":false},"axis":null},"text":{"field":"t"}}}
],
"resolve":{"scale":{"x":"independent","y":"independent","color":"independent"},"axis":{"x":"independent","y":"independent"}}}
